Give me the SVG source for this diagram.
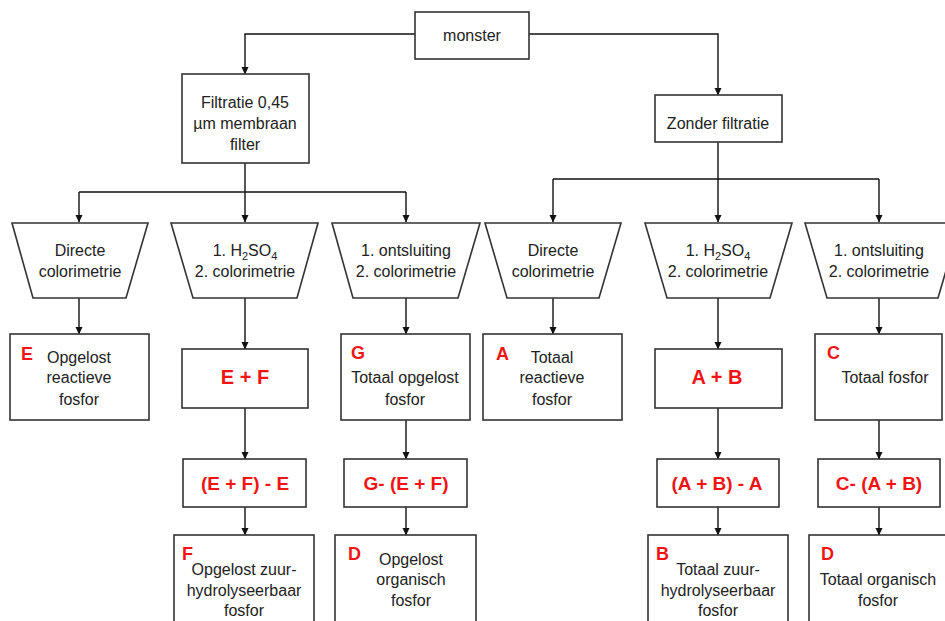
<svg xmlns="http://www.w3.org/2000/svg" width="945" height="621" viewBox="0 0 945 621">
<defs>
<marker id="ah" markerWidth="8" markerHeight="8" refX="7" refY="4" orient="auto" markerUnits="userSpaceOnUse">
<path d="M0,0.5 L7.5,4 L0,7.5 Z" fill="#111"/>
</marker>
<style>
.box{fill:#fff;stroke:#333;stroke-width:1.6}
.t{font-family:"Liberation Sans",Arial,sans-serif;font-size:16px;fill:#222;text-anchor:middle}
.r{font-family:"Liberation Sans",Arial,sans-serif;font-weight:bold;fill:#f01414;text-anchor:middle}
.lbl{font-size:18px;text-anchor:start}
.big{font-size:20px}
.mid{font-size:19px}
.c{fill:none;stroke:#111;stroke-width:1.4}
.ca{fill:none;stroke:#111;stroke-width:1.4;marker-end:url(#ah)}
</style>
</defs>
<rect width="945" height="621" fill="#fff"/>

<g id="connectors">
<path class="ca" d="M415,34 H245 V74"/>
<path class="ca" d="M529,34 H718 V95"/>
<path class="ca" d="M245,163 V222"/>
<path class="c" d="M79,192 H406"/>
<path class="ca" d="M79,192 V222"/>
<path class="ca" d="M406,192 V222"/>
<path class="ca" d="M718,142 V222"/>
<path class="c" d="M553,179 H879"/>
<path class="ca" d="M553,179 V222"/>
<path class="ca" d="M879,179 V222"/>
<path class="ca" d="M79,298 V334"/>
<path class="ca" d="M245,298 V349"/>
<path class="ca" d="M245,408 V459"/>
<path class="ca" d="M245,507 V535"/>
<path class="ca" d="M406,298 V334"/>
<path class="ca" d="M406,420 V459"/>
<path class="ca" d="M406,507 V535"/>
<path class="ca" d="M553,298 V334"/>
<path class="ca" d="M718,298 V349"/>
<path class="ca" d="M718,408 V459"/>
<path class="ca" d="M718,507 V535"/>
<path class="ca" d="M879,298 V334"/>
<path class="ca" d="M879,420 V459"/>
<path class="ca" d="M879,507 V535"/>
</g>

<g id="monster">
<rect class="box" x="415" y="12" width="114" height="47"/>
<text class="t" x="472" y="41">monster</text>
</g>

<g id="filtratie">
<rect class="box" x="182" y="74" width="127" height="89"/>
<text class="t" x="245" y="108">Filtratie 0,45</text>
<text class="t" x="245" y="129">µm membraan</text>
<text class="t" x="245" y="150">filter</text>
</g>

<g id="zonder">
<rect class="box" x="655" y="95" width="127" height="47"/>
<text class="t" x="718" y="129">Zonder filtratie</text>
</g>

<g id="trap1">
<path class="box" d="M12,223 H148 L126,298 H33 Z"/>
<text class="t" x="80" y="256">Directe</text>
<text class="t" x="80" y="277">colorimetrie</text>
</g>
<g id="trap2">
<path class="box" d="M171,223 H318 L297,298 H193 Z"/>
<text class="t" x="245" y="256">1. H<tspan font-size="11" dy="4">2</tspan><tspan dy="-4">SO</tspan><tspan font-size="11" dy="4">4</tspan></text>
<text class="t" x="245" y="277">2. colorimetrie</text>
</g>
<g id="trap3">
<path class="box" d="M332,223 H480 L458,298 H353 Z"/>
<text class="t" x="406" y="256">1. ontsluiting</text>
<text class="t" x="406" y="277">2. colorimetrie</text>
</g>
<g id="trap4">
<path class="box" d="M485,223 H621 L599,298 H507 Z"/>
<text class="t" x="553" y="256">Directe</text>
<text class="t" x="553" y="277">colorimetrie</text>
</g>
<g id="trap5">
<path class="box" d="M645,223 H792 L770,298 H667 Z"/>
<text class="t" x="718" y="256">1. H<tspan font-size="11" dy="4">2</tspan><tspan dy="-4">SO</tspan><tspan font-size="11" dy="4">4</tspan></text>
<text class="t" x="718" y="277">2. colorimetrie</text>
</g>
<g id="trap6">
<path class="box" d="M805,223 H960 L938,298 H827 Z"/>
<text class="t" x="879" y="256">1. ontsluiting</text>
<text class="t" x="879" y="277">2. colorimetrie</text>
</g>

<g id="boxE">
<rect class="box" x="10" y="334" width="139" height="86"/>
<text class="r lbl" x="21" y="360">E</text>
<text class="t" x="79" y="363">Opgelost</text>
<text class="t" x="79" y="383">reactieve</text>
<text class="t" x="79" y="405">fosfor</text>
</g>
<g id="boxEF">
<rect class="box" x="182" y="349" width="126" height="59"/>
<text class="r big" x="245" y="384">E + F</text>
</g>
<g id="boxEFE">
<rect class="box" x="183" y="459" width="123" height="48"/>
<text class="r mid" x="245" y="490">(E + F) - E</text>
</g>
<g id="boxF">
<rect class="box" x="174" y="535" width="140" height="95"/>
<text class="r lbl" x="182" y="560">F</text>
<text class="t" x="244" y="575">Opgelost zuur-</text>
<text class="t" x="244" y="596">hydrolyseerbaar</text>
<text class="t" x="244" y="616">fosfor</text>
</g>
<g id="boxG">
<rect class="box" x="341" y="334" width="129" height="86"/>
<text class="r lbl" x="351" y="359">G</text>
<text class="t" x="405" y="383">Totaal opgelost</text>
<text class="t" x="405" y="405">fosfor</text>
</g>
<g id="boxGEF">
<rect class="box" x="344" y="459" width="123" height="48"/>
<text class="r mid" x="406" y="490">G- (E + F)</text>
</g>
<g id="boxD1">
<rect class="box" x="335" y="535" width="141" height="95"/>
<text class="r lbl" x="348" y="560">D</text>
<text class="t" x="411" y="565">Opgelost</text>
<text class="t" x="411" y="585">organisch</text>
<text class="t" x="411" y="606">fosfor</text>
</g>

<g id="boxA">
<rect class="box" x="483" y="334" width="139" height="86"/>
<text class="r lbl" x="496" y="360">A</text>
<text class="t" x="552" y="363">Totaal</text>
<text class="t" x="552" y="383">reactieve</text>
<text class="t" x="552" y="405">fosfor</text>
</g>
<g id="boxAB">
<rect class="box" x="655" y="349" width="127" height="59"/>
<text class="r big" x="717" y="384">A + B</text>
</g>
<g id="boxABA">
<rect class="box" x="657" y="459" width="122" height="48"/>
<text class="r mid" x="717" y="490">(A + B) - A</text>
</g>
<g id="boxB">
<rect class="box" x="648" y="535" width="140" height="95"/>
<text class="r lbl" x="656" y="560">B</text>
<text class="t" x="718" y="575">Totaal zuur-</text>
<text class="t" x="718" y="596">hydrolyseerbaar</text>
<text class="t" x="718" y="616">fosfor</text>
</g>
<g id="boxC">
<rect class="box" x="815" y="334" width="127" height="86"/>
<text class="r lbl" x="827" y="359">C</text>
<text class="t" x="885" y="383">Totaal fosfor</text>
</g>
<g id="boxCAB">
<rect class="box" x="818" y="459" width="122" height="48"/>
<text class="r mid" x="879" y="490">C- (A + B)</text>
</g>
<g id="boxD2">
<rect class="box" x="809" y="535" width="140" height="95"/>
<text class="r lbl" x="821" y="560">D</text>
<text class="t" x="878" y="585">Totaal organisch</text>
<text class="t" x="878" y="606">fosfor</text>
</g>
</svg>
